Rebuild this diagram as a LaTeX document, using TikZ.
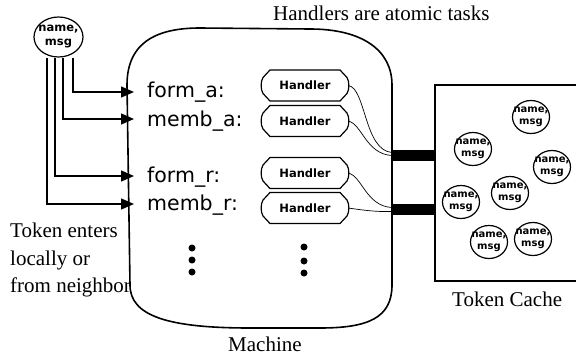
\documentclass[tikz,border=0pt]{standalone}
\usepackage{fontspec}
\setmainfont{Liberation Serif}
\newfontfamily\dvsans{DejaVu Sans}
\usetikzlibrary{shapes.geometric,arrows.meta}
\begin{document}
\begin{tikzpicture}[x=1pt,y=-1pt,
  conn/.style={line width=1.3pt},
  arr/.style={conn,-{Triangle[length=13pt,width=11pt]}},
  lbl/.style={anchor=base west,inner sep=0pt,font=\dvsans\fontsize{20.5}{24}\selectfont},
  serif/.style={anchor=base west,inner sep=0pt,font=\fontsize{21}{25}\selectfont},
  hnode/.style={minimum width=86pt,minimum height=31pt,inner sep=0pt,font=\dvsans\bfseries\fontsize{11.5}{13}\selectfont},
  hbox/.style={line width=1.2pt},
  tok/.style={draw,ellipse,line width=1.2pt,inner xsep=-6pt,inner ysep=-3pt,align=center,minimum width=37pt,minimum height=33pt,font=\dvsans\bfseries\fontsize{10}{12}\selectfont},
  bigtok/.style={tok,inner xsep=-8pt,inner ysep=-4pt,minimum width=49pt,minimum height=40pt,font=\dvsans\bfseries\fontsize{11.5}{14}\selectfont},
  bar/.style={fill=black,inner sep=0pt,minimum width=43pt,minimum height=11pt},
  wire/.style={line width=0.7pt},
  dot/.style={circle,fill=black,inner sep=0pt,minimum size=7pt}
]
\useasboundingbox (0,0) rectangle (576,356);
\clip (0,0) rectangle (576,356);

% machine outline
\draw[line width=1.6pt] (127,85) .. controls (127,40) and (160,28) .. (200,28) -- (310,29)
  .. controls (362,29) and (392,50) .. (392,85) -- (392,285)
  .. controls (392,318) and (368,328) .. (320,328) -- (250,328)
  .. controls (168,328) and (130,316) .. (130,285) -- cycle;

% incoming token
\node[bigtok] (src) at (58.5,37) {name,\\msg};
\coordinate (s1) at (47,58);
\coordinate (s2) at (55,58);
\coordinate (s3) at (63,58);
\coordinate (s4) at (73,58);
\coordinate (e1) at (134,92);
\coordinate (e2) at (134,119);
\coordinate (e3) at (134,176);
\coordinate (e4) at (134,204);
\draw[arr] (s4) |- (e1);
\draw[arr] (s3) |- (e2);
\draw[arr] (s2) |- (e3);
\draw[arr] (s1) |- (e4);

% labels
\node[lbl] (fa) at (147,97) {form\_a:};
\node[lbl] (ma) at (147,126) {memb\_a:};
\node[lbl] (fr) at (147,182) {form\_r:};
\node[lbl] (mr) at (147,210) {memb\_r:};

% handlers
\node[hnode] (h1) at (305,85.5) {Handler};
\node[hnode] (h2) at (305,121) {Handler};
\node[hnode] (h3) at (305,173) {Handler};
\node[hnode] (h4) at (305,208) {Handler};
\foreach \h in {h1,h2,h3,h4}{
  \begin{scope}[shift={(\h.center)}]
    \draw[hbox] (-35,-15.5) -- (35,-15.5) -- (42,-8) .. controls (44.5,-4) and (44.5,4) .. (42,8)
      -- (35,15.5) -- (-35,15.5) -- (-42,8) .. controls (-44.5,4) and (-44.5,-4) .. (-42,-8) -- cycle;
  \end{scope}
}

% bars
\node[bar] (b1) at (413.5,155.5) {};
\node[bar] (b2) at (413.5,209.5) {};
\draw[wire] (h1.east) .. controls (366,88) and (364,150) .. ([yshift=3pt]b1.west);
\draw[wire] (h2.east) .. controls (362,124) and (366,154) .. (b1.west);
\draw[wire] (h3.east) .. controls (362,176) and (366,206) .. ([yshift=2pt]b2.west);
\draw[wire] (h4.east) .. controls (362,210) and (376,212) .. ([yshift=-2pt]b2.west);

% token cache
\draw[line width=1.6pt] (435,85) rectangle (590,281);
\node[tok] (t1) at (531,117) {name,\\msg};
\node[tok] (t2) at (473,149) {name,\\msg};
\node[tok] (t3) at (552,167) {name,\\msg};
\node[tok] (t4) at (510,193) {name,\\msg};
\node[tok] (t5) at (461,202) {name,\\msg};
\node[tok] (t6) at (489,242) {name,\\msg};
\node[tok] (t7) at (533,239) {name,\\msg};

% dots
\node[dot] (d1) at (192,248) {};
\node[dot] (d2) at (192,260) {};
\node[dot] (d3) at (192,272) {};
\node[dot] (d4) at (304,247) {};
\node[dot] (d5) at (304,261) {};
\node[dot] (d6) at (304,273) {};

% texts
\node[serif] (ht) at (273,20) {Handlers are atomic tasks};
\node[serif] (tc) at (452,306) {Token Cache};
\node[serif] (mc) at (228,351) {Machine};
\node[serif] (te1) at (10,237.5) {Token enters};
\node[serif] (te2) at (10,265) {locally or};
\node[serif] (te3) at (10,292.5) {from neighbor};
\end{tikzpicture}
\end{document}
